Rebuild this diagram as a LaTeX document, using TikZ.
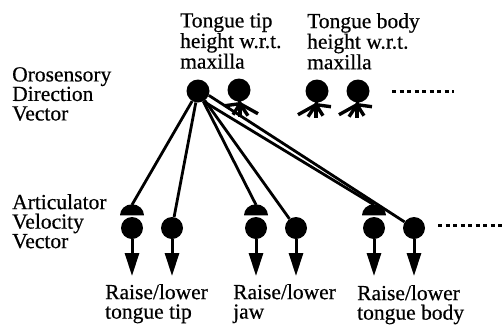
\documentclass[tikz,border=0pt]{standalone}
\usepackage{fontspec}
\setmainfont{Liberation Serif}[FakeBold=0.5]
\usetikzlibrary{arrows.meta}
\tikzset{
  cell/.style={circle, fill=black, inner sep=0pt, minimum size=#1},
  cell/.default=23pt,
  link/.style={line width=2.8pt},
  finger/.style={line width=3.4pt},
  arr/.style={-{Triangle[length=23pt,width=14pt]}, line width=3pt},
  more/.style={line width=3pt, dash pattern=on 4pt off 3.5pt},
  lbl/.style={anchor=north west, inner sep=0pt, align=left,
              font=\fontsize{21.5}{19.5}\selectfont},
}

\begin{document}
\begin{tikzpicture}[x=1pt,y=-1pt]
  \useasboundingbox (0,0) rectangle (504,325);

  % layer names
  \node[lbl] (osl) at (12,67) {Orosensory\\Direction\\Vector};
  \node[lbl] (avl) at (12,194) {Articulator\\Velocity\\Vector};
  \node[lbl] (ttl) at (180,13) {Tongue tip\\height w.r.t.\\maxilla};
  \node[lbl] (tbl) at (307,13) {Tongue body\\height w.r.t.\\maxilla};

  % orosensory direction cells
  \node[cell] (ods1) at (198,91) {};
  \node[cell] (ods2) at (239,90) {};
  \node[cell] (ods3) at (317,91) {};
  \node[cell] (ods4) at (358,91) {};
  \draw[finger] ([yshift=2pt]ods2.south) -- ++(1,4) coordinate (nk2);
  \foreach \dx/\dy in {-15/2,-7/11,0/13,8/12,18/10}
    \draw[finger] (nk2) -- ++(\dx,\dy);
  \foreach \n in {ods3,ods4}{
    \draw[finger] ([yshift=2pt]\n.south) -- ++(-1,4) coordinate (nk);
    \foreach \dx/\dy in {-18/10,-8/12,0/13,7/11,15/2}
      \draw[finger] (nk) -- ++(\dx,\dy);
  }
  \coordinate (mo1) at (392,91);
  \coordinate (mo2) at (454,91);
  \draw[more] (mo1) -- (mo2);

  % articulator velocity cells
  \foreach \i/\x in {1/132,2/172,3/256,4/296,5/374,6/414}{
    \node[cell=22pt] (av\i) at (\x,228) {};
    \coordinate (out\i) at (\x,276);
    \draw[arr] (av\i) -- (out\i);
  }
  \foreach \i in {1,3,5}{
    \fill ([yshift=1.5pt]av\i.north) ++(-12,0)
      arc[start angle=180,end angle=360,x radius=12,y radius=11] -- cycle;
    \coordinate (cap\i) at ([yshift=12pt]av\i.north);
  }
  \coordinate (ma1) at (438,225);
  \coordinate (ma2) at (504,225);
  \draw[more] (ma1) -- (ma2);

  % projections from the tongue tip cell
  \foreach \t in {cap1,av2,cap3,av4}
    \draw[link] (ods1) -- (\t);
  \draw[link] (ods1.-62) -- (cap5);
  \draw[link] (ods1.-22) -- (av6);

  % articulator names
  \node[lbl] (rl1) at (105,284) {Raise/lower\\tongue tip};
  \node[lbl] (rl2) at (233,284) {Raise/lower\\jaw};
  \node[lbl] (rl3) at (357,285) {Raise/lower\\tongue body};
\end{tikzpicture}
\end{document}
